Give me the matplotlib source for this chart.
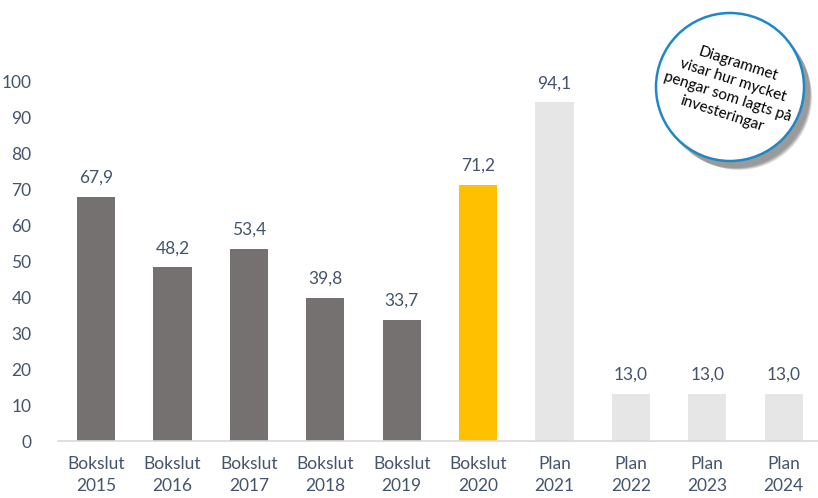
import matplotlib.pyplot as plt
from matplotlib.patches import Circle

categories = ["Bokslut\n2015", "Bokslut\n2016", "Bokslut\n2017", "Bokslut\n2018", "Bokslut\n2019",
              "Bokslut\n2020", "Plan\n2021", "Plan\n2022", "Plan\n2023", "Plan\n2024"]
values = [67.9, 48.2, 53.4, 39.8, 33.7, 71.2, 94.1, 13.0, 13.0, 13.0]
labels = ["67,9", "48,2", "53,4", "39,8", "33,7", "71,2", "94,1", "13,0", "13,0", "13,0"]
yticks = [0, 10, 20, 30, 40, 50, 60, 70, 80, 90, 100]
colors = ["#767171"] * 5 + ["#FFC000"] + ["#E6E6E6"] * 4

txt = "#44546A"
plt.rcParams['font.family'] = ['Lato', 'DejaVu Sans']

W, H = 818, 498
fig = plt.figure(figsize=(W / 100, H / 100), dpi=100)
ax = fig.add_axes([58 / W, (H - 441) / H, 1 - 58 / W, 360 / H])

x = list(range(len(values)))
ax.bar(x, values, width=0.5, color=colors, zorder=2)
for xi, v, lab in zip(x, values, labels):
    ax.annotate(lab, (xi, v), xytext=(0, 8), textcoords="offset points",
                ha="center", va="bottom", fontsize=12.5, color=txt)

ax.set_xlim(-0.5, 9.45)
ax.set_ylim(0, 100)
ax.set_yticks(yticks)
ax.set_xticks(x)
ax.set_xticklabels(categories, fontsize=12.5, color=txt)
for t in ax.get_xticklabels():
    t.set_linespacing(1.45)
ax.tick_params(axis="y", length=0, pad=19, labelsize=12.5, labelcolor=txt)
ax.tick_params(axis="x", length=0, pad=11)
for s in ["top", "right", "left"]:
    ax.spines[s].set_visible(False)
ax.spines["bottom"].set_color("#D9D9D9")
ax.spines["bottom"].set_linewidth(1.2)

# badge circle
cx, cy, r = 730, 87, 74
bax = fig.add_axes([(cx - 90) / W, (H - cy - 90) / H, 180 / W, 180 / H])
bax.set_xlim(-90, 90)
bax.set_ylim(-90, 90)
bax.set_aspect("equal")
bax.axis("off")
for i in range(8):
    bax.add_patch(Circle((5 + i * 0.6, -6 - i * 0.6), r + 1 - i * 0.3, color="black",
                         alpha=0.06, lw=0))
bax.add_patch(Circle((0, 0), r, facecolor="white", edgecolor="#1E88C7", lw=1.8))
bax.text(0, -2, "Diagrammet\nvisar hur mycket\npengar som lagts på\ninvesteringar",
         rotation=-18, ha="center", va="center", fontsize=11, color="black",
         linespacing=1.3, rotation_mode="anchor", multialignment="center")

fig.savefig("out.png", dpi=100)
